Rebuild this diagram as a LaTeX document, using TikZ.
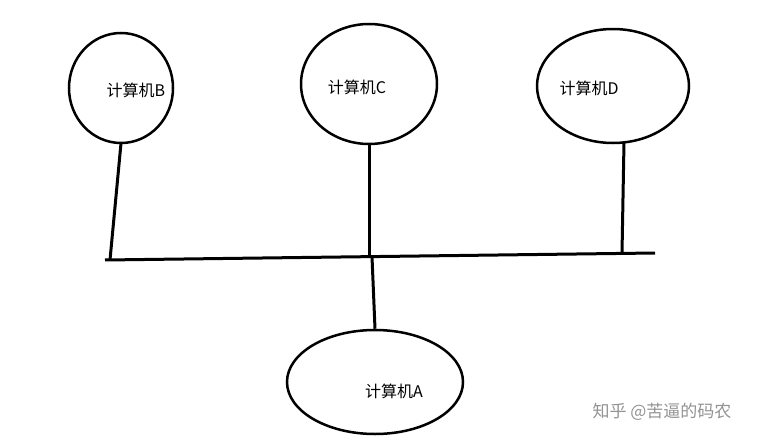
\documentclass[tikz,border=0pt]{standalone}
\usepackage{fontspec}
\newfontfamily\cjk{Noto Sans CJK SC}
\usetikzlibrary{shapes.geometric}
\begin{document}
\begin{tikzpicture}[x=1pt,y=-1pt,
  pc/.style={draw,line width=2.5pt,ellipse,inner sep=0pt},
  lbl/.style={font=\cjk\fontsize{16}{18}\selectfont},
  wire/.style={line width=3pt}]
\useasboundingbox[fill=white] (0,0) rectangle (758,447);
\node[pc,minimum width=104,minimum height=110] (B) at (121,88) {};
\node[pc,minimum width=136,minimum height=120] (C) at (369,84) {};
\node[pc,minimum width=152,minimum height=114] (D) at (613,86) {};
\node[pc,minimum width=176,minimum height=104] (A) at (375,382) {};
\node[lbl] (tB) at (136,90) {计算机B};
\node[lbl] (tC) at (357,87) {计算机C};
\node[lbl] (tD) at (589,88) {计算机D};
\node[lbl] (tA) at (394,391) {计算机A};
\coordinate (L) at (105,260);
\coordinate (R) at (655,253);
\coordinate (bB) at (110,260);
\coordinate (bC) at (369,256.7);
\coordinate (bD) at (622,253.4);
\coordinate (bA) at (372,256.7);
\draw[wire] (L) -- (R);
\draw[wire] (B.south) ++(0,-1) -- (bB);
\draw[wire] (C.south) -- (bC);
\draw[wire] (624,142) -- (bD);
\draw[wire] (bA) -- (A.north);
\node[font=\cjk\fontsize{17}{20}\selectfont,text=gray!85] (wm) at (662,412) {知乎 @苦逼的码农};
\end{tikzpicture}
\end{document}
